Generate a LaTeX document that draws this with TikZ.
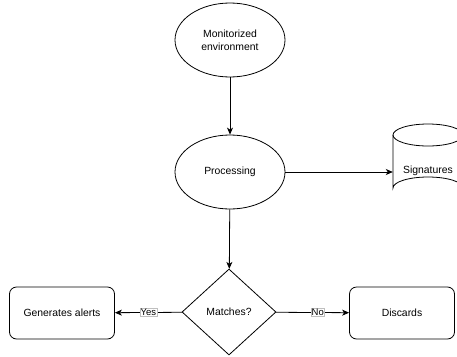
\documentclass[tikz,border=0pt]{standalone}
\usepackage{fontspec}
\setmainfont{Liberation Sans}
\usetikzlibrary{shapes.geometric,arrows.meta}
\begin{document}
\begin{tikzpicture}[x=1pt,y=-1pt,
  every node/.style={font=\fontsize{10.4}{13}\selectfont, text=black},
  line/.style={draw=black, line width=0.8pt},
  blob/.style={line, ellipse, minimum width=110pt, minimum height=74pt, inner sep=0pt, align=center},
  rbox/.style={line, rectangle, rounded corners=7pt, minimum width=105pt, minimum height=52pt, inner sep=0pt},
  decide/.style={line, diamond, minimum width=94pt, minimum height=86pt, aspect=1.09, inner sep=0pt},
  store/.style={rectangle, minimum width=70pt, minimum height=52pt, inner sep=0pt},
  flow/.style={line, -{Stealth[length=7pt,width=6pt,inset=2pt]}},
  tag/.style={fill=white, draw=black!25, line width=0.3pt, inner sep=0.6pt, font=\fontsize{9.5}{11}\selectfont}
]
\clip (0,0) rectangle (457,356);

\node[blob]   (env)  at (230,40)  {Monitorized\\environment};
\node[blob]   (proc) at (230,172) {Processing};
\node[store]  (sig)  at (428,171) {Signatures};
\node[decide] (dec)  at (229,312) {Matches?};
\node[rbox]   (alert) at (62,313) {Generates alerts};
\node[rbox]   (disc) at (402,313) {Discards};

% cylinder outline around the signature store
\draw[line] (428,135) ellipse [x radius=35, y radius=11];
\draw[line] (393,135) -- (393,188) arc [start angle=180, end angle=360, x radius=35, y radius=11] -- (463,135);

\draw[flow] (env) -- (proc);
\draw[flow] (proc) -- (sig.west |- proc);
\draw[flow] (proc) -- (dec);
\draw[flow] (dec) -- node[tag, pos=0.5] {Yes} (alert);
\draw[flow] (dec) -- node[tag, pos=0.57] {No} (disc);
\end{tikzpicture}
\end{document}
